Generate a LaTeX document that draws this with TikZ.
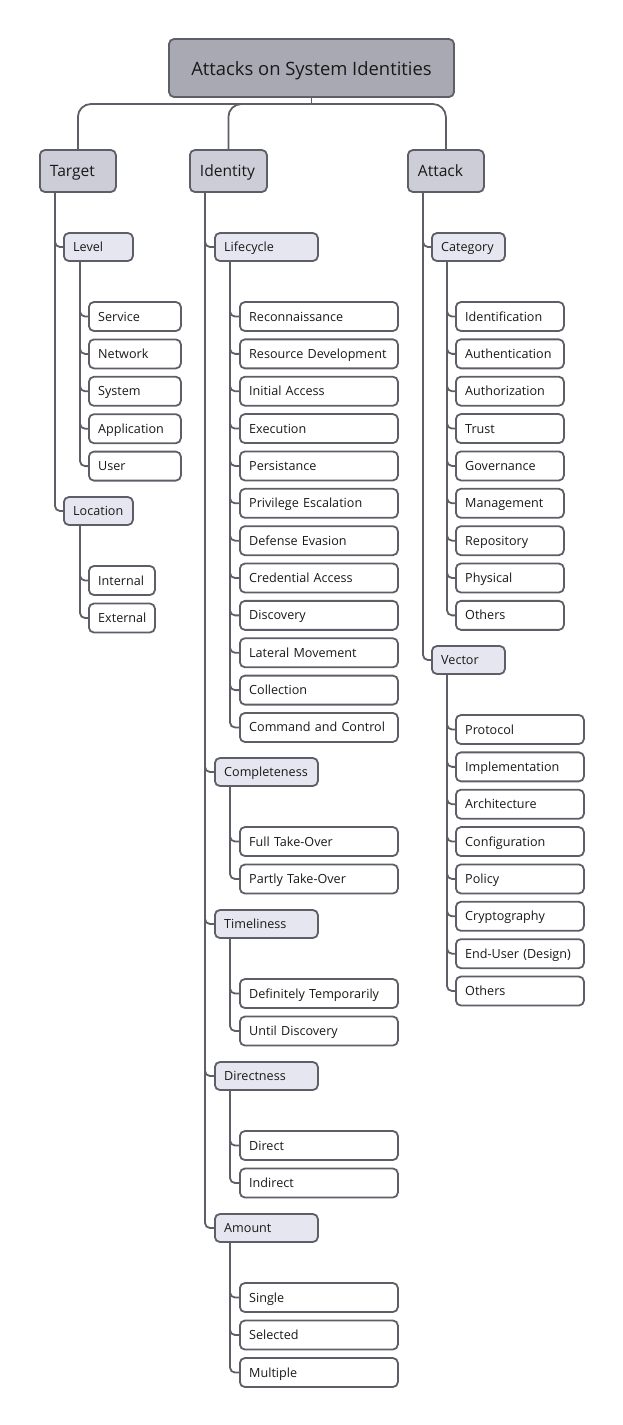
\documentclass[tikz,border=0pt]{standalone}
\usepackage{fontspec}
\setmainfont{Open Sans}
\hyphenpenalty=10000 \exhyphenpenalty=10000
\definecolor{edge}{HTML}{5E5E68}
\definecolor{rootfill}{HTML}{A9A9B3}
\definecolor{lonefill}{HTML}{CDCDD8}
\definecolor{ltwofill}{HTML}{E6E6F0}
\tikzset{
  box/.style={draw=edge, line width=1.8pt, rounded corners=5pt, inner ysep=0pt, anchor=west, align=left, text=black!90},
  rootbox/.style={box, fill=rootfill, minimum width=285pt, minimum height=58pt, anchor=center, align=center,
    font=\fontsize{18.4}{22}\selectfont, text height=16pt, text depth=2pt},
  lone/.style={box, fill=lonefill, minimum height=42pt, inner xsep=10pt, text width=#1,
    font=\fontsize{15.6}{19}\selectfont, text height=13pt, text depth=2pt},
  ltwo/.style={box, fill=ltwofill, minimum height=28pt, inner xsep=9.3pt, text width=#1,
    font=\fontsize{12.6}{15}\selectfont, text height=11pt, text depth=2pt},
  leaf/.style={box, fill=white, minimum height=29pt, inner xsep=9.3pt, text width=#1,
    font=\fontsize{12.6}{15}\selectfont, text height=11pt, text depth=2pt},
  link/.style={draw=edge, line width=1.8pt},
  thinlink/.style={draw=edge, line width=1.2pt},
  branch/.style={draw=edge, line width=1.8pt, rounded corners=5pt}
}
\begin{document}
\begin{tikzpicture}[x=1pt,y=-1pt]
\useasboundingbox (0,0) rectangle (622,1425);

% root and first level
\node[rootbox] (root) at (311.5,68) {Attacks on System Identities};
\node[lone=56pt] (target) at (39,171) {Target};
\node[lone=57pt] (identity) at (189,171) {Identity};
\node[lone=56pt] (attack) at (407,171) {Attack};

\coordinate (hub) at (311.5,104);
\draw[link] (root.south) -- (hub);
\draw[link, rounded corners=13pt] (hub) -| (target.north);
\draw[link, rounded corners=13pt] (hub) -| (identity.north);
\draw[link, rounded corners=13pt] (hub) -| (attack.north);

% second level
\node[ltwo=50.4pt] (level) at (63,247) {Level};
\node[ltwo=50.4pt] (location) at (63,511) {Location};
\node[ltwo=84.4pt] (lifecycle) at (214,247) {Lifecycle};
\node[ltwo=84.4pt] (completeness) at (214,772) {Completeness};
\node[ltwo=84.4pt] (timeliness) at (214,924) {Timeliness};
\node[ltwo=84.4pt] (directness) at (214,1076) {Directness};
\node[ltwo=84.4pt] (amount) at (214,1228) {Amount};
\node[ltwo=54.4pt] (category) at (431,247) {Category};
\node[ltwo=54.4pt] (vector) at (431,660) {Vector};

% trunks of first level
\coordinate (tT) at (55,218);
\coordinate (tI) at (205,218);
\coordinate (tA) at (423,218);
\draw[thinlink] (target.south -| tT) -- (tT);
\draw[thinlink] (identity.south -| tI) -- (tI);
\draw[thinlink] (attack.south -| tA) -- (tA);
\foreach \n in {level,location} \draw[branch] (tT) |- (\n.west);
\foreach \n in {lifecycle,completeness,timeliness,directness,amount} \draw[branch] (tI) |- (\n.west);
\foreach \n in {category,vector} \draw[branch] (tA) |- (\n.west);

% Level children
\coordinate (tLv) at (80,288);
\draw[thinlink] (level.south -| tLv) -- (tLv);
\foreach \t [count=\i from 0] in {Service,Network,System,Application,User}{
  \node[leaf=73.4pt] (lv\i) at (88,{316.5+\i*37.4}) {\t};
  \draw[branch] (tLv) |- (lv\i.west);
}

% Location children
\coordinate (tLo) at (80,552);
\draw[thinlink] (location.south -| tLo) -- (tLo);
\foreach \t [count=\i from 0] in {Internal,External}{
  \node[leaf=47.4pt] (lo\i) at (88,{580.5+\i*37.5}) {\t};
  \draw[branch] (tLo) |- (lo\i.west);
}

% Lifecycle children
\coordinate (tLc) at (230,288);
\draw[thinlink] (lifecycle.south -| tLc) -- (tLc);
\foreach \t [count=\i from 0] in {Reconnaissance,{\mbox{Resource Development}},Initial Access,Execution,Persistance,Privilege Escalation,Defense Evasion,Credential Access,Discovery,Lateral Movement,Collection,{\mbox{Command and Control}}}{
  \node[leaf=139.4pt] (lc\i) at (239,{316.5+\i*37.36}) {\t};
  \draw[branch] (tLc) |- (lc\i.west);
}

% Completeness children
\coordinate (tCo) at (230,813);
\draw[thinlink] (completeness.south -| tCo) -- (tCo);
\foreach \t [count=\i from 0] in {Full Take-Over,Partly Take-Over}{
  \node[leaf=139.4pt] (co\i) at (239,{841.5+\i*37.5}) {\t};
  \draw[branch] (tCo) |- (co\i.west);
}

% Timeliness children
\coordinate (tTi) at (230,965);
\draw[thinlink] (timeliness.south -| tTi) -- (tTi);
\foreach \t [count=\i from 0] in {{\mbox{Definitely Temporarily}},Until Discovery}{
  \node[leaf=139.4pt] (ti\i) at (239,{993.5+\i*37.5}) {\t};
  \draw[branch] (tTi) |- (ti\i.west);
}

% Directness children
\coordinate (tDi) at (230,1117);
\draw[thinlink] (directness.south -| tDi) -- (tDi);
\foreach \t [count=\i from 0] in {Direct,Indirect}{
  \node[leaf=139.4pt] (di\i) at (239,{1145.5+\i*37.5}) {\t};
  \draw[branch] (tDi) |- (di\i.west);
}

% Amount children
\coordinate (tAm) at (230,1269);
\draw[thinlink] (amount.south -| tAm) -- (tAm);
\foreach \t [count=\i from 0] in {Single,Selected,Multiple}{
  \node[leaf=139.4pt] (am\i) at (239,{1297.5+\i*37.5}) {\t};
  \draw[branch] (tAm) |- (am\i.west);
}

% Category children
\coordinate (tCa) at (447,288);
\draw[thinlink] (category.south -| tCa) -- (tCa);
\foreach \t [count=\i from 0] in {Identification,Authentication,Authorization,Trust,Governance,Management,Repository,Physical,Others}{
  \node[leaf=89.4pt] (ca\i) at (455,{316.5+\i*37.36}) {\t};
  \draw[branch] (tCa) |- (ca\i.west);
}

% Vector children
\coordinate (tVe) at (447,701);
\draw[thinlink] (vector.south -| tVe) -- (tVe);
\foreach \t [count=\i from 0] in {Protocol,Implementation,Architecture,Configuration,Policy,Cryptography,{\mbox{End-User (Design)}},Others}{
  \node[leaf=109.4pt] (ve\i) at (455,{729.5+\i*37.36}) {\t};
  \draw[branch] (tVe) |- (ve\i.west);
}
\end{tikzpicture}
\end{document}
